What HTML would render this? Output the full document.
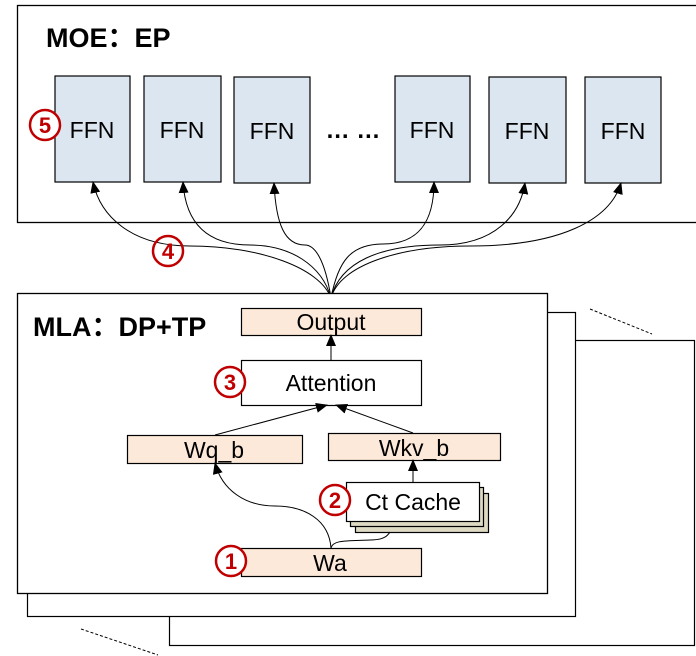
<!DOCTYPE html>
<html><head><meta charset="utf-8"><style>
body{margin:0;background:#fff;}
svg{display:block;font-family:"Liberation Sans","Noto Sans CJK SC",sans-serif;}
.t{font-size:23px;text-anchor:middle;fill:#000;}
.c{fill:#fff;stroke:#c00000;stroke-width:2.5;}
.cn{font-size:22px;font-weight:bold;fill:#c00000;text-anchor:middle;}
</style></head><body>
<svg width="696" height="656" viewBox="0 0 696 656">
<defs><marker id="a" markerWidth="12" markerHeight="10" refX="11" refY="5" orient="auto" markerUnits="userSpaceOnUse" viewBox="0 0 12 10"><path d="M0,0 L12,5 L0,10 z" fill="#000"/></marker></defs>
<!-- MOE -->
<rect x="17.5" y="5.5" width="690" height="217" fill="#fff" stroke="#000" stroke-width="1.3"/>
<text x="46" y="47" font-size="27" font-weight="bold">MOE：EP</text>
<g fill="#dce6f1" stroke="#000" stroke-width="1.2">
<rect x="55" y="76" width="75" height="106"/><rect x="144" y="76" width="77" height="106"/><rect x="234" y="77" width="76" height="106"/>
<rect x="395" y="76" width="75" height="106"/><rect x="489" y="77" width="77" height="106"/><rect x="585" y="77" width="76" height="106"/>
</g>
<g class="t"><text x="92" y="138">FFN</text><text x="182" y="138">FFN</text><text x="272" y="139">FFN</text><text x="432" y="138">FFN</text><text x="527" y="139">FFN</text><text x="623" y="139">FFN</text></g>
<text x="353" y="138" font-size="24" font-weight="bold" text-anchor="middle">… …</text>
<!-- fan -->
<g fill="none" stroke="#000" stroke-width="1" marker-end="url(#a)">
<path d="M331,298 C320,268 260,246 190,246 C130,246 100,215 93,182"/>
<path d="M331,298 C322,265 290,245 250,245 C200,245 185,215 183,182"/>
<path d="M331,298 C325,260 315,245 305,245 C285,245 276,225 274,183"/>
<path d="M331,298 C338,262 350,244 383,244 C420,244 434,220 434,182"/>
<path d="M331,298 C340,262 380,245 440,245 C495,245 520,215 525,183"/>
<path d="M331,298 C340,265 400,246 470,246 C560,246 610,220 621,183"/>
</g>
<circle class="c" cx="45" cy="125" r="15"/><text class="cn" x="45" y="133">5</text>
<circle class="c" cx="168" cy="251" r="15" fill="none" style="fill:none"/><text class="cn" x="168" y="259">4</text>
<!-- stacked boxes -->
<rect x="169.5" y="340.5" width="525" height="305" fill="#fff" stroke="#000" stroke-width="1.2"/>
<rect x="27.5" y="312.5" width="548" height="304" fill="#fff" stroke="#000" stroke-width="1.2"/>
<rect x="17.5" y="293.5" width="530" height="300" fill="#fff" stroke="#000" stroke-width="1.3"/>
<line x1="590" y1="309" x2="652" y2="334" stroke="#000" stroke-dasharray="3,2"/>
<line x1="81" y1="629" x2="158" y2="655" stroke="#000" stroke-dasharray="3,2"/>
<text x="33" y="336" font-size="27" font-weight="bold">MLA：DP+TP</text>
<g stroke="#000" stroke-width="1.2">
<rect x="241.5" y="308.5" width="180" height="27" fill="#fde9d9"/>
<rect x="241.5" y="360.5" width="180" height="45" fill="#fff"/>
<rect x="127.5" y="435.5" width="175" height="28" fill="#fde9d9"/>
<rect x="328.5" y="433.5" width="172" height="27" fill="#fde9d9"/>
<rect x="355.5" y="493.5" width="133" height="39" fill="#ddd9c3"/>
<rect x="350.5" y="487.5" width="133" height="39" fill="#ddd9c3"/>
<rect x="346.5" y="482.5" width="133" height="39" fill="#fff"/>
<rect x="241.5" y="548.5" width="180" height="28" fill="#fde9d9"/>
</g>
<g class="t"><text x="331" y="330">Output</text><text x="331" y="391">Attention</text><text x="214" y="458">Wq_b</text><text x="414" y="456">Wkv_b</text><text x="413" y="510">Ct Cache</text><text x="330" y="571">Wa</text></g>
<g fill="none" stroke="#000" stroke-width="1" marker-end="url(#a)">
<path d="M331,360 L331,335"/>
<path d="M215,435 L327,405"/>
<path d="M413,433 L336,405"/>
<path d="M413,482 L413,460"/>
<path d="M331,548 C329,520 305,506 275,506 C245,506 222,490 215,463"/>
</g>
<path d="M331,548 C333,540 345,541 370,540 C385,540 388,535 390,532" fill="none" stroke="#000" stroke-width="1"/>
<circle class="c" cx="230" cy="382" r="15"/><text class="cn" x="230" y="390">3</text>
<circle class="c" cx="335" cy="500" r="15"/><text class="cn" x="335" y="508">2</text>
<circle class="c" cx="231" cy="561" r="15"/><text class="cn" x="231" y="569">1</text>
</svg>
</body></html>
